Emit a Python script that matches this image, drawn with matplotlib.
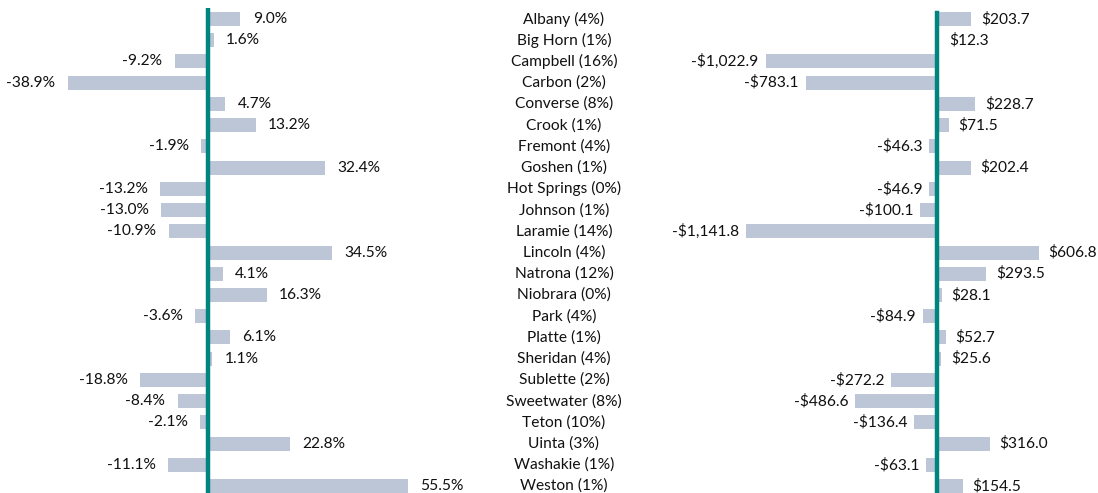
import matplotlib.pyplot as plt

counties = ['Albany (4%)', 'Big Horn (1%)', 'Campbell (16%)', 'Carbon (2%)', 'Converse (8%)',
            'Crook (1%)', 'Fremont (4%)', 'Goshen (1%)', 'Hot Springs (0%)', 'Johnson (1%)',
            'Laramie (14%)', 'Lincoln (4%)', 'Natrona (12%)', 'Niobrara (0%)', 'Park (4%)',
            'Platte (1%)', 'Sheridan (4%)', 'Sublette (2%)', 'Sweetwater (8%)', 'Teton (10%)',
            'Uinta (3%)', 'Washakie (1%)', 'Weston (1%)']
pct_change = [9.0, 1.6, -9.2, -38.9, 4.7, 13.2, -1.9, 32.4, -13.2, -13.0, -10.9, 34.5,
              4.1, 16.3, -3.6, 6.1, 1.1, -18.8, -8.4, -2.1, 22.8, -11.1, 55.5]
dollar_change = [203.7, 12.3, -1022.9, -783.1, 228.7, 71.5, -46.3, 202.4, -46.9, -100.1,
                 -1141.8, 606.8, 293.5, 28.1, -84.9, 52.7, 25.6, -272.2, -486.6, -136.4,
                 316.0, -63.1, 154.5]

plt.rcParams['font.family'] = ['Lato', 'DejaVu Sans']
bar_col = '#BDC6D7'
teal = '#00847F'
txt_col = '#111111'
fs = 11.2

W, H = 1098, 493
fig = plt.figure(figsize=(W / 100, H / 100), dpi=100)

y = list(range(len(counties)))
top_px, bot_px = 8.4, 493
ylim = (22 + (493 - 486) / 21.23, -0.5)


def px_axes(x0, x1):
    return fig.add_axes([x0 / W, 1 - bot_px / H, (x1 - x0) / W, (bot_px - top_px) / H])


def fmt_pct(v):
    return f'{v:.1f}%'


def fmt_dol(v):
    s = f'${abs(v):,.1f}'
    return '-' + s if v < 0 else s


# left panel: percent change
axl = px_axes(0, 480)
axl.barh(y, pct_change, height=0.66, color=bar_col)
axl.set_xlim(-208 / 3.6, (480 - 208) / 3.6)
axl.set_ylim(*ylim)
axl.axvline(0, color=teal, lw=3.2, ymin=0, ymax=1)
for yi, v in zip(y, pct_change):
    off = 9 if v >= 0 else -9
    axl.annotate(fmt_pct(v), (v, yi), xytext=(off, 0), textcoords='offset points',
                 ha='left' if v >= 0 else 'right', va='center', fontsize=fs, color=txt_col)
axl.axis('off')

# middle labels
axm = px_axes(480, 650)
axm.set_xlim(0, 1)
axm.set_ylim(*ylim)
for yi, name in zip(y, counties):
    axm.text((564 - 480) / 170, yi, name, ha='center', va='center', fontsize=fs, color=txt_col)
axm.axis('off')

# right panel: dollar change
axr = px_axes(700, 1098)
axr.barh(y, dollar_change, height=0.66, color=bar_col)
axr.set_xlim((700 - 937) / 0.1675, (1098 - 937) / 0.1675)
axr.set_ylim(*ylim)
span = ylim[0] - ylim[1]
axr.axvline(0, color=teal, lw=3.2, ymin=0, ymax=(ylim[0] + 0.27) / span)
for yi, v in zip(y, dollar_change):
    off = 7 if v >= 0 else -5
    axr.annotate(fmt_dol(v), (v, yi), xytext=(off, 0), textcoords='offset points',
                 ha='left' if v >= 0 else 'right', va='center', fontsize=fs, color=txt_col)
axr.axis('off')

fig.savefig('out.png', dpi=100)
